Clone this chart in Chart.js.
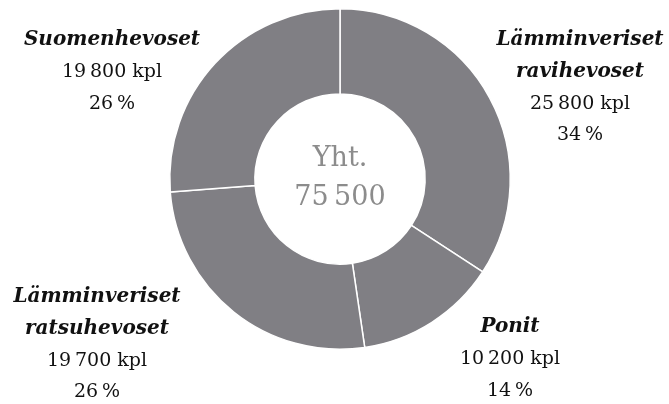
<!DOCTYPE html>
<html>
<head>
<meta charset="utf-8">
<script src="https://cdn.jsdelivr.net/npm/chart.js@4/dist/chart.umd.min.js"></script>
<style>
    html, body { margin: 0; padding: 0; background: #ffffff; }
    #wrap { width: 669px; height: 404px; position: relative; }
</style>
</head>
<body>
<div id="wrap"><canvas id="horseChart"></canvas></div>
<script>
// horse groups, clockwise from the top
const categories = [['Lämminveriset', 'ravihevoset'], ['Ponit'], ['Lämminveriset', 'ratsuhevoset'], ['Suomenhevoset']];
const counts = [25800, 10200, 19700, 19800];
const centerTitle = 'Yht.';

const serif = '"DejaVu Serif", "Liberation Serif", serif';

function formatThousands(n) {
    return String(n).replace(/\B(?=(\d{3})+(?!\d))/g, '\u2009');
}

// where each label block sits, relative to the ring centre
const labelPlacement = [
    { dx: 240, dy: -139 },
    { dx: 170, dy: 148 },
    { dx: -243, dy: 118 },
    { dx: -228, dy: -139 }
];

const outsideLabels = {
    id: 'outsideLabels',
    afterDraw: function (chart) {
        var ctx = chart.ctx;
        var arc = chart.getDatasetMeta(0).data[0];
        var cx = arc.x;
        var cy = arc.y;
        var total = counts.reduce(function (a, b) { return a + b; }, 0);
        var lineGap = 31.8;

        ctx.save();
        ctx.textAlign = 'center';
        ctx.textBaseline = 'middle';
        ctx.fillStyle = '#111111';

        for (let i = 0; i < categories.length; i++) {
            var x = cx + labelPlacement[i].dx;
            var y = cy + labelPlacement[i].dy;
            var lines = categories[i];

            ctx.font = 'italic bold 20px ' + serif;
            lines.forEach(function (line) {
                ctx.fillText(line, x, y);
                y += lineGap;
            });

            ctx.font = '19px ' + serif;
            ctx.fillText(formatThousands(counts[i]) + ' kpl', x, y);
            y += lineGap;
            ctx.fillText(Math.round(counts[i] / total * 100) + '\u2009%', x, y);
        }

        // total in the hole
        ctx.fillStyle = '#8c8c8c';
        ctx.font = '27px ' + serif;
        ctx.fillText(centerTitle, cx, cy - 20);
        ctx.fillText(formatThousands(total), cx, cy + 19);
        ctx.restore();
    }
};

function GenerateHorseChart() {
    var horseChartControl = document.getElementById('horseChart');

    new Chart(horseChartControl, {
        type: 'doughnut',
        data: {
            labels: categories.map(function (c) { return c.join(' '); }),
            datasets: [{
                data: counts,
                backgroundColor: '#807f84',
                borderColor: '#ffffff',
                borderWidth: 1.5,
                hoverOffset: 0
            }]
        },
        options: {
            responsive: true,
            maintainAspectRatio: false,
            animation: false,
            cutout: '50%',
            layout: {
                padding: { top: 8, bottom: 54, left: 11, right: 0 }
            },
            plugins: {
                legend: { display: false },
                tooltip: { enabled: false }
            }
        },
        plugins: [outsideLabels]
    });
}

GenerateHorseChart();
</script>
</body>
</html>
